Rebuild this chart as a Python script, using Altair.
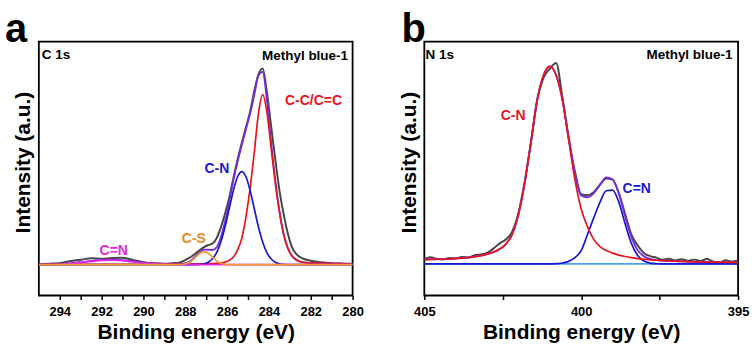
import altair as alt
import pandas as pd

FONT = "Liberation Sans"

# ---------------- Panel a : C 1s ----------------
x_a = [295.0, 294.5, 294.0, 293.5, 293.0, 292.5, 292.0, 291.5, 291.0, 290.5, 290.0, 289.5, 289.0, 288.6,
       288.3, 288.1, 287.9, 287.7, 287.5, 287.3, 287.1, 286.9, 286.7, 286.5, 286.3, 286.1, 285.9, 285.7, 285.5,
       285.3, 285.1, 284.9, 284.7, 284.5, 284.3, 284.1, 283.9, 283.7, 283.5, 283.3, 283.1, 282.9, 282.7, 282.5,
       282.2, 281.8, 281.4, 281.0, 280.6, 280.2, 280.0]

raw_a = [0.2, 0.5, 0.8, 1.8, 2.5, 3.3, 3.0, 3.4, 3.6, 2.4, 1.3, 0.7, 0.5, 0.8,
         1.0, 1.8, 3.0, 4.2, 5.8, 7.5, 9.0, 10.0, 10.8, 13.5, 19.0, 26.0, 34.0, 44.0, 53.5,
         62.0, 70.0, 78.0, 88.5, 97.0, 100.0, 88.0, 71.0, 54.0, 38.0, 26.0, 16.0, 9.0, 5.5, 3.8,
         2.5, 1.6, 1.1, 0.8, 0.6, 0.5, 0.5]

fit_a = [0.16, 0.23, 0.39, 0.72, 1.25, 1.91, 2.45, 2.6, 2.29, 1.69, 1.08, 0.64, 0.41, 0.35,
         0.38, 0.55, 1.1, 2.33, 4.34, 6.4, 7.67, 7.62, 7.5, 8.85, 14.0, 22.0, 32.0, 43.0, 52.5,
         60.8, 69.0, 77.0, 86.5, 96.3, 98.2, 84.2, 63.0, 43.3, 27.5, 15.7, 8.6, 4.5, 2.5, 1.5,
         1.0, 0.8, 0.65, 0.55, 0.5, 0.45, 0.45]

cc_a = [0.14, 0.15, 0.16, 0.17, 0.18, 0.19, 0.2, 0.21, 0.22, 0.23, 0.24, 0.25, 0.26, 0.28,
        0.30, 0.32, 0.35, 0.37, 0.39, 0.43, 0.48, 0.52, 0.6, 0.7, 0.87, 1.3, 2.2, 3.9, 7.4,
        13.4, 24.2, 39.0, 57.2, 77.1, 86.6, 78.0, 60.0, 42.0, 27.0, 15.5, 8.5, 4.5, 2.5, 1.5,
        1.0, 0.8, 0.65, 0.55, 0.5, 0.45, 0.45]

cn_a = [0, 0, 0, 0, 0, 0, 0, 0, 0, 0, 0, 0, 0, 0,
        0, 0, 0, 0.01, 0.05, 0.17, 0.49, 1.3, 3.0, 6.2, 11.6, 19.2, 28.5, 37.8, 44.8,
        47.4, 44.8, 37.8, 28.5, 19.2, 11.6, 6.2, 3.0, 1.3, 0.49, 0.17, 0.05, 0.01, 0, 0,
        0, 0, 0, 0, 0, 0, 0]

cs_a = [0, 0, 0, 0, 0, 0, 0, 0, 0, 0, 0, 0, 0, 0.01,
        0.05, 0.22, 0.75, 1.95, 3.9, 5.8, 6.7, 5.8, 3.9, 1.95, 0.75, 0.22, 0.05, 0.01, 0,
        0, 0, 0, 0, 0, 0, 0, 0, 0, 0, 0, 0, 0, 0, 0,
        0, 0, 0, 0, 0, 0, 0]

cdn_a = [0.02, 0.08, 0.23, 0.55, 1.07, 1.72, 2.25, 2.39, 2.07, 1.46, 0.84, 0.39, 0.15, 0.06,
         0.03, 0, 0, 0, 0, 0, 0, 0, 0, 0, 0, 0, 0, 0, 0,
         0, 0, 0, 0, 0, 0, 0, 0, 0, 0, 0, 0, 0, 0, 0,
         0, 0, 0, 0, 0, 0, 0]

ticks_a = [294, 293, 292, 291, 290, 289, 288, 287, 286, 285, 284, 283, 282, 281, 280]

labels_a_text = ["C 1s", "Methyl blue-1", "C-C/C=C", "C-N", "C-S", "C=N"]
labels_a_x = [294.86, 280.22, 281.87, 286.49, 287.59, 291.42]
labels_a_y = [106.6, 106.1, 83.2, 48.7, 13.2, 7.1]

# ---------------- Panel b : N 1s ----------------
x_b = [405.0, 404.8, 404.6, 404.4, 404.2, 404.0, 403.8, 403.6, 403.4, 403.2,
       403.0, 402.8, 402.6, 402.4, 402.2, 402.0, 401.8, 401.6, 401.4, 401.2,
       401.0, 400.8, 400.6, 400.4, 400.2, 400.0, 399.8, 399.6, 399.4, 399.2,
       399.0, 398.8, 398.6, 398.4, 398.2, 398.0, 397.8, 397.6, 397.4, 397.2,
       397.0, 396.8, 396.6, 396.4, 396.2, 396.0, 395.8, 395.6, 395.4, 395.2, 395.0]

raw_b = [2.5, 3.4, 2.6, 2.3, 3.0, 2.8, 3.6, 3.2, 4.4, 4.8,
         5.6, 7.8, 10.5, 12.5, 16.5, 26.0, 42.0, 62.0, 84.0, 95.0,
         99.5, 102.5, 85.0, 64.0, 47.0, 35.5, 35.0, 36.5, 40.5, 43.6,
         43.0, 36.0, 25.5, 15.0, 9.5, 5.5, 4.0, 3.2, 2.1, 2.6,
         1.8, 2.4, 1.6, 2.2, 1.5, 2.5, 1.3, 0.6, 1.9, 1.2, 1.6]

cn_b = [2.2, 2.3, 2.4, 2.5, 2.6, 2.8, 3.0, 3.3, 3.7, 4.2,
        5.0, 6.0, 7.6, 10.1, 15.1, 25.2, 41.3, 62.4, 83.6, 96.2,
        100.7, 96.2, 83.6, 63.5, 43.0, 28.0, 19.0, 12.5, 8.8, 6.8,
        5.5, 4.5, 3.8, 3.2, 2.7, 2.4, 2.1, 1.9, 1.7, 1.5,
        1.4, 1.3, 1.2, 1.1, 1.0, 1.0, 0.9, 0.9, 0.8, 0.8, 0.8]

cdn_b = [0, 0, 0, 0, 0, 0, 0, 0, 0, 0,
         0, 0, 0, 0, 0, 0, 0, 0, 0, 0,
         0.05, 0.15, 0.5, 1.3, 3.2, 6.8, 15.0, 23.5, 31.5, 37.3,
         37.6, 31.5, 20.5, 10.5, 4.3, 1.5, 0.45, 0.1, 0, 0,
         0, 0, 0, 0, 0, 0, 0, 0, 0, 0, 0]

fit_b = [2.2, 2.3, 2.4, 2.5, 2.6, 2.8, 3.0, 3.3, 3.7, 4.2,
         5.0, 6.0, 7.6, 10.1, 15.1, 25.2, 41.3, 62.4, 83.6, 96.2,
         100.75, 96.35, 84.1, 64.8, 46.2, 34.8, 34.0, 36.0, 40.3, 44.1,
         43.1, 36.0, 24.3, 13.7, 7.0, 3.9, 2.55, 2.0, 1.7, 1.5,
         1.4, 1.3, 1.2, 1.1, 1.0, 1.0, 0.9, 0.9, 0.8, 0.8, 0.8]

bg_b = [0] * len(x_b)

ticks_b = [405, 402.5, 400, 397.5, 395]

labels_b_text = ["N 1s", "Methyl blue-1", "C-N", "C=N"]
labels_b_x = [404.96, 395.18, 402.17, 398.23]
labels_b_y = [106.7, 106.7, 75.3, 38.2]

# ---------------- styling ----------------
C_RAW = "#474747"
C_FIT = "#7a2be0"
C_RED = "#e8141c"
C_BLUE = "#1818d0"
C_ORANGE = "#f39a2e"
C_MAG = "#e424e4"
C_LBLUE = "#4aa2e2"
C_ORANGE_TXT = "#f0891e"


def make_panel(x, series, xdom, ydom, ticks, major_mod, labels, letter, letter_dx):
    xaxis = alt.Axis(values=ticks, labelExpr=f"datum.value % {major_mod} == 0 ? datum.label : ''",
                     tickSize=4, tickWidth=1.5, tickColor="black", domain=False, grid=False,
                     labelFont=FONT, labelFontSize=13, labelFontWeight="bold", labelColor="black",
                     labelPadding=6, labelFlush=False, labelOverlap=False, labelBound=False,
                     title="Binding energy (eV)", titleFont=FONT, titleFontSize=21,
                     titleFontWeight="bold", titleColor="black", titlePadding=3)
    yaxis = alt.Axis(labels=False, ticks=False, domain=False, grid=False,
                     title="Intensity (a.u.)", titleFont=FONT, titleFontSize=21,
                     titleFontWeight="bold", titleColor="black", titlePadding=5, titleY=121)
    xs = alt.Scale(domain=xdom, reverse=True, nice=False, zero=False)
    ys = alt.Scale(domain=ydom, nice=False, zero=False)
    layers = []
    for vals, color, width in series:
        df = pd.DataFrame({"x": x, "y": vals})
        layers.append(
            alt.Chart(df).mark_line(color=color, strokeWidth=width, interpolate="monotone", clip=True)
            .encode(x=alt.X("x:Q", scale=xs, axis=xaxis), y=alt.Y("y:Q", scale=ys, axis=yaxis))
        )
    for text, lx, ly, color, align, size in labels:
        df = pd.DataFrame({"x": [lx], "y": [ly], "t": [text]})
        layers.append(
            alt.Chart(df).mark_text(font=FONT, fontWeight="bold", fontSize=size, color=color,
                                    align=align, baseline="middle")
            .encode(x=alt.X("x:Q", scale=xs, axis=xaxis), y=alt.Y("y:Q", scale=ys, axis=yaxis),
                    text="t:N")
        )
    ldf = pd.DataFrame({"t": [letter]})
    layers.append(
        alt.Chart(ldf).mark_text(font=FONT, fontWeight="bold", fontSize=40, color="black",
                                 align="left", baseline="alphabetic")
        .encode(x=alt.value(letter_dx), y=alt.value(0), text="t:N")
    )
    return alt.layer(*layers).properties(width=315, height=255)


series_a = [(raw_a, C_RAW, 2.0), (fit_a, C_FIT, 1.8), (cc_a, C_RED, 1.7), (cn_a, C_BLUE, 1.7),
            (cdn_a, C_MAG, 1.7), (cs_a, C_ORANGE, 1.7)]
lab_a = [
    (labels_a_text[0], labels_a_x[0], labels_a_y[0], "black", "left", 13.5),
    (labels_a_text[1], labels_a_x[1], labels_a_y[1], "black", "right", 13.5),
    (labels_a_text[2], labels_a_x[2], labels_a_y[2], C_RED, "center", 14),
    (labels_a_text[3], labels_a_x[3], labels_a_y[3], C_BLUE, "center", 14),
    (labels_a_text[4], labels_a_x[4], labels_a_y[4], C_ORANGE_TXT, "center", 14),
    (labels_a_text[5], labels_a_x[5], labels_a_y[5], C_MAG, "center", 14),
]

series_b = [(raw_b, C_RAW, 2.0), (fit_b, C_FIT, 1.8), (bg_b, C_LBLUE, 1.7), (cdn_b, C_BLUE, 1.7),
            (cn_b, C_RED, 1.7)]
lab_b = [
    (labels_b_text[0], labels_b_x[0], labels_b_y[0], "black", "left", 13.5),
    (labels_b_text[1], labels_b_x[1], labels_b_y[1], "black", "right", 13.5),
    (labels_b_text[2], labels_b_x[2], labels_b_y[2], C_RED, "center", 14),
    (labels_b_text[3], labels_b_x[3], labels_b_y[3], C_BLUE, "center", 14),
]

pa = make_panel(x_a, series_a, [280, 295], [-15.7, 113.7], ticks_a, 2, lab_a, "a", -34)
pb = make_panel(x_b, series_b, [395, 405], [-16.1, 113.4], ticks_b, 5, lab_b, "b", -23)

chart = (
    alt.hconcat(pa, pb, spacing=72, bounds="flush")
    .properties(padding={"left": 4, "top": 8, "right": 5, "bottom": 5}, background="white")
    .configure_view(stroke="black", strokeWidth=1.8)
)

chart.save("out.html", embed_options={"renderer": "svg", "actions": False})
